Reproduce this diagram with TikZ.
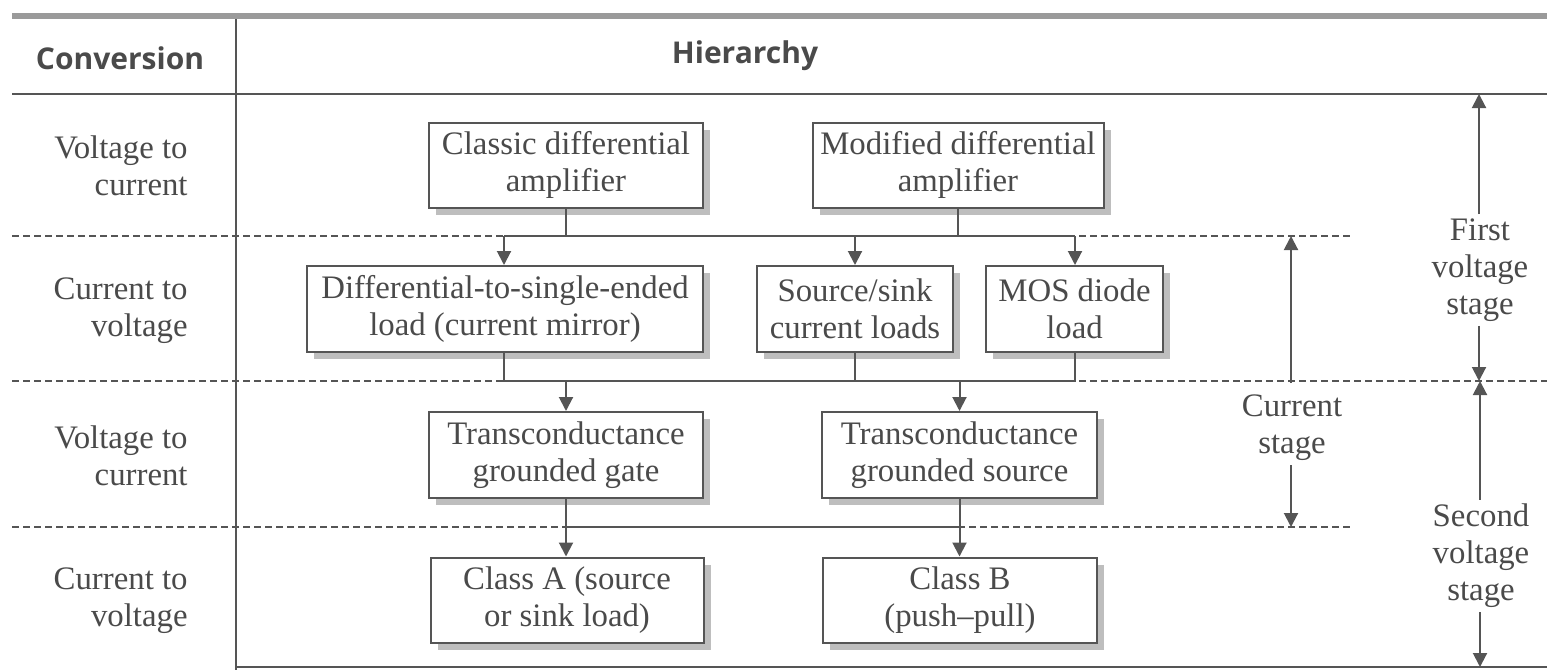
\documentclass[tikz,border=0pt]{standalone}
\usepackage{fontspec}
\setmainfont{Liberation Serif}
\newfontfamily\hdfont{Open Sans}
\usetikzlibrary{arrows.meta,shadows}
\definecolor{ink}{HTML}{4A4A4A}
\definecolor{lineink}{HTML}{555555}
\definecolor{shade}{HTML}{BEBEBE}
\definecolor{barclr}{HTML}{9A9A9A}
\begin{document}
\begin{tikzpicture}[x=0.5pt,y=-0.5pt,
  txt/.style={text=ink, font=\fontsize{16.4}{18.5}\selectfont, align=center, inner sep=2pt},
  lbl/.style={txt, align=right, anchor=east},
  hdr/.style={text=ink, font=\hdfont\bfseries\fontsize{15}{18}\selectfont, inner sep=0pt},
  box/.style={txt, draw=lineink, line width=1pt, fill=white, inner sep=0pt,
    drop shadow={shadow xshift=3.5pt, shadow yshift=-3.5pt, opacity=1, fill=shade}},
  conn/.style={draw=lineink, line width=1pt},
  arr/.style={conn, -{Triangle[length=7pt,width=7pt]}},
  rule/.style={draw=lineink, line width=1pt},
  dashrule/.style={draw=lineink, line width=0.8pt, dash pattern=on 3.5pt off 2pt}]
\useasboundingbox (0,0) rectangle (1547,670);
% frame
\fill[barclr] (12,13) rectangle (1547,19);
\draw[rule] (12,94) -- (1547,94);
\draw[rule] (236,19) -- (236,670);
\draw[rule] (236,667) -- (1547,667);
\draw[dashrule] (12,236) -- (1350,236);
\draw[dashrule] (12,381) -- (1547,381);
\draw[dashrule] (12,527) -- (1350,527);
% headers
\node[hdr] (hconv) at (120,58) {Conversion};
\node[hdr] (hhier) at (745,56) {Hierarchy};
% row labels
\node[lbl] (l1) at (192,166) {Voltage to\\current};
\node[lbl] (l2) at (192,311) {Current to\\voltage};
\node[lbl] (l3) at (192,456) {Voltage to\\current};
\node[lbl] (l4) at (192,601) {Current to\\voltage};
% boxes
\node[box, minimum width=137pt, minimum height=42.5pt] (cda) at (566,165) {Classic differential\\amplifier};
\node[box, minimum width=145.5pt, minimum height=42.5pt] (mda) at (958,165) {Modified differential\\amplifier};
\node[box, minimum width=198pt, minimum height=43pt] (dse) at (505,309) {Differential-to-single-ended\\load (current mirror)};
\node[box, minimum width=98pt, minimum height=43pt] (ssl) at (855,309) {Source/sink\\current loads};
\node[box, minimum width=88.5pt, minimum height=43pt] (mos) at (1074.5,309) {MOS diode\\load};
\node[box, minimum width=137pt, minimum height=43pt] (tgg) at (566,455) {Transconductance\\grounded gate};
\node[box, minimum width=137.5pt, minimum height=43pt] (tgs) at (959.5,455) {Transconductance\\grounded source};
\node[box, minimum width=136.5pt, minimum height=42.5pt] (ca) at (567,600) {Class A (source\\or sink load)};
\node[box, minimum width=137pt, minimum height=42.5pt] (cb) at (960,600) {Class B\\(push--pull)};
% buses
\coordinate (b1L) at (504,236);
\coordinate (b1R) at (1075,236);
\coordinate (b2L) at (504,381);
\coordinate (b2R) at (1075,381);
\coordinate (b3) at (0,527);
% row 1 -> row 2
\draw[conn] (cda.south) -- (cda.south |- b1L);
\draw[conn] (mda.south) -- (mda.south |- b1L);
\draw[conn] (b1L) -- (b1R);
\draw[arr] (b1L) -- (b1L |- dse.north);
\draw[arr] (ssl.north |- b1L) -- (ssl.north);
\draw[arr] (b1R) -- (b1R |- mos.north);
% row 2 -> row 3
\draw[conn] (b2L |- dse.south) -- (b2L) -- (b2R) -- (b2R |- mos.south);
\draw[conn] (ssl.south) -- (ssl.south |- b2L);
\draw[arr] (tgg.north |- b2L) -- (tgg.north);
\draw[arr] (tgs.north |- b2L) -- (tgs.north);
% row 3 -> row 4
\draw[conn] (tgg.south |- b3) -- (tgs.south |- b3);
\draw[arr] (tgg.south) -- (tgg.south |- ca.north);
\draw[arr] (tgs.south) -- (tgs.south |- cb.north);
% stage annotations
\node[txt] (fvs) at (1480,270) {First\\voltage\\stage};
\node[txt] (svs) at (1481,556) {Second\\voltage\\stage};
\node[txt] (cst) at (1292,428) {Current\\stage};
\coordinate (fvsT) at (1479,94);
\coordinate (fvsB) at (1479,381);
\coordinate (svsT) at (1480,381);
\coordinate (svsB) at (1480,667);
\coordinate (cstB0) at (1291,383);
\coordinate (cstT) at (1291,236);
\coordinate (cstB) at (1291,527);
\draw[arr] (fvs.north -| fvsT) -- (fvsT);
\draw[arr] (fvs.south -| fvsB) -- (fvsB);
\draw[arr] (svs.north -| svsT) -- (svsT);
\draw[arr] (svs.south -| svsB) -- (svsB);
\draw[arr] (cstB0) -- (cstT);
\draw[arr] (cst.south -| cstB) -- (cstB);
\end{tikzpicture}
\end{document}
